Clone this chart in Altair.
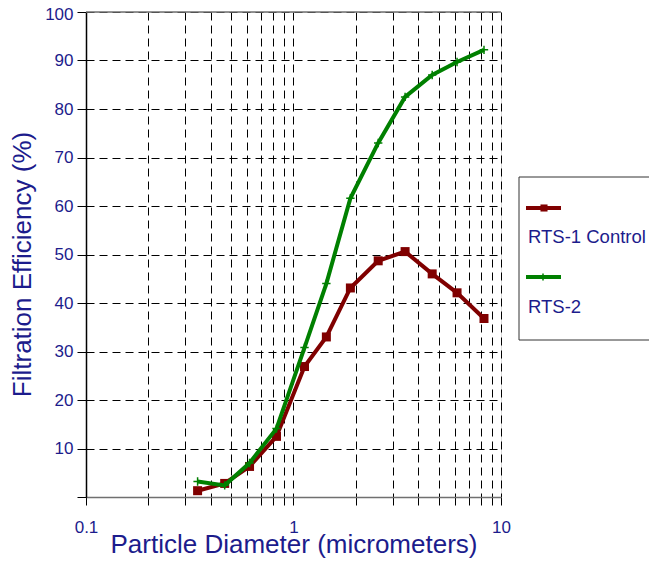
import altair as alt
import pandas as pd

# ---- data ----
diam = [0.345, 0.466, 0.614, 0.828, 1.13, 1.44, 1.88, 2.56, 3.45, 4.66, 6.14, 8.28]
rts1 = [1.3, 2.8, 6.3, 12.5, 26.9, 33.0, 43.1, 48.7, 50.6, 46.0, 42.1, 36.8]
rts2 = [3.2, 2.4, 7.0, 14.1, 30.8, 44.0, 61.6, 73.0, 82.5, 87.0, 89.7, 92.2]
series_names = ["RTS-1 Control", "RTS-2"]
series_colors = ["#800000", "#008000"]
x_ticks = [0.1, 0.2, 0.3, 0.4, 0.5, 0.6, 0.7, 0.8, 0.9,
           1, 2, 3, 4, 5, 6, 7, 8, 9, 10]
y_ticks = [0, 10, 20, 30, 40, 50, 60, 70, 80, 90, 100]

FONT = "Liberation Sans"
NAVY = "#1c1c8c"
CROSS = "M-1,0L1,0M0,-1L0,1"

df1 = pd.DataFrame({"d": diam, "eff": rts1})
df2 = pd.DataFrame({"d": diam, "eff": rts2})

xscale = alt.Scale(type="log", domain=[0.1, 10], nice=False)
yscale = alt.Scale(domain=[0, 100], nice=False)

xaxis = alt.Axis(
    values=x_ticks, format="~g",
    labelExpr="(datum.value == 0.1 || datum.value == 1 || datum.value == 10) ? datum.label : ''",
    title="Particle Diameter (micrometers)",
    grid=True, gridColor="black", gridDash=[8, 5], gridWidth=1, gridOpacity=1,
    domainColor="#707070", domainWidth=1.5,
    tickColor="black", tickSize=8, tickWidth=1,
    labelFontSize=17, labelColor=NAVY, labelFont=FONT, labelPadding=14,
    labelFlush=False, labelOverlap=False,
    titleFontSize=26, titleColor=NAVY, titleFont=FONT, titleFontWeight="normal",
    titlePadding=-4,
)
yaxis = alt.Axis(
    values=y_ticks,
    labelExpr="datum.value == 0 ? '' : datum.label",
    labelOffset={"condition": {"test": "datum.value == 100", "value": 2}, "value": 0},
    title="Filtration Efficiency (%)",
    grid=True, gridColor="black", gridDash=[8, 5], gridWidth=1, gridOpacity=1,
    domainColor="black", domainWidth=1.5,
    tickColor="black", tickSize=9, tickWidth=1,
    labelFontSize=17, labelColor=NAVY, labelFont=FONT, labelPadding=4,
    labelFlush=False,
    titleFontSize=26, titleColor=NAVY, titleFont=FONT, titleFontWeight="normal",
    titlePadding=9, titleY=252,
)

base1 = alt.Chart(df1).encode(
    x=alt.X("d:Q", scale=xscale, axis=xaxis),
    y=alt.Y("eff:Q", scale=yscale, axis=yaxis),
)
base2 = alt.Chart(df2).encode(
    x=alt.X("d:Q", scale=xscale),
    y=alt.Y("eff:Q", scale=yscale),
)

top_rule = alt.Chart(pd.DataFrame({"v": [100]})).mark_rule(
    color="#707070", strokeWidth=1.5
).encode(y=alt.Y("v:Q", scale=yscale))

line1 = base1.mark_line(color=series_colors[0], strokeWidth=4)
pts1 = base1.mark_point(shape="square", filled=True, size=81,
                        color=series_colors[0], opacity=1)
line2 = base2.mark_line(color=series_colors[1], strokeWidth=4)
pts2 = base2.mark_point(shape=CROSS, filled=False, size=70,
                        color=series_colors[1], strokeWidth=1.5, opacity=1)

# ---- manual legend (box, symbols, labels below symbols) ----
one = pd.DataFrame({"a": [0]})
leg_box = alt.Chart(one).mark_rect(
    fill="white", stroke="#333333", strokeWidth=1
).encode(x=alt.value(433), x2=alt.value(600), y=alt.value(165), y2=alt.value(328))


def legend_entry(name, color, sym_y, text_y, shape, filled):
    ln = alt.Chart(one).mark_rule(color=color, strokeWidth=4).encode(
        x=alt.value(440), x2=alt.value(475), y=alt.value(sym_y))
    if filled:
        sym = alt.Chart(one).mark_point(shape=shape, filled=True, size=50,
                                        color=color, opacity=1).encode(
            x=alt.value(458), y=alt.value(sym_y))
    else:
        sym = alt.Chart(one).mark_point(shape=shape, filled=False, size=50,
                                        color=color, strokeWidth=1.5,
                                        opacity=1).encode(
            x=alt.value(457), y=alt.value(sym_y))
    txt = alt.Chart(one).mark_text(
        align="left", baseline="alphabetic", font=FONT, fontSize=18.5,
        color=NAVY, text=name).encode(x=alt.value(442), y=alt.value(text_y))
    return [ln, sym, txt]


leg1 = legend_entry(series_names[0], series_colors[0], 196, 231, "square", True)
leg2 = legend_entry(series_names[1], series_colors[1], 265, 301, CROSS, False)

chart = alt.layer(
    line1, pts1, line2, pts2, top_rule, leg_box, *leg1, *leg2,
).properties(
    width=415, height=485,
    autosize=alt.AutoSizeParams(type="none"),
    padding={"left": 78, "top": 4, "right": 148, "bottom": 64},
).configure_view(stroke=None).configure(background="white")

chart.save("out.html", embed_options={"renderer": "svg", "actions": False})
